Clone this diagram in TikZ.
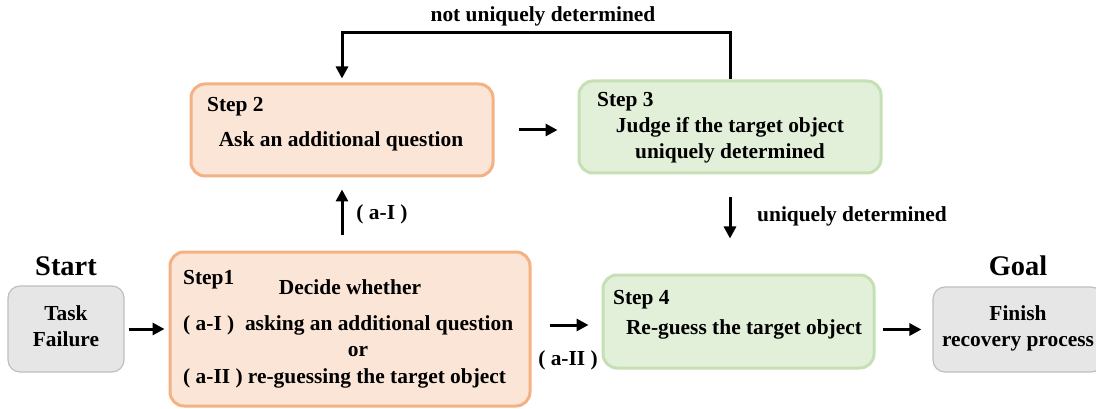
\documentclass[tikz,border=0pt]{standalone}
\usepackage{fontspec}
\setmainfont{Liberation Serif}
\usetikzlibrary{arrows.meta, positioning}
\definecolor{colorStepFill}{HTML}{FBE5D6}
\definecolor{colorStepLine}{HTML}{F4B183}
\definecolor{colorJudgeFill}{HTML}{E2F0D9}
\definecolor{colorJudgeLine}{HTML}{C5E0B4}
\definecolor{colorEndFill}{HTML}{E7E6E6}
\definecolor{colorEndLine}{HTML}{BFBFBF}
\tikzset{
  stepbox/.style={draw=colorStepLine, fill=colorStepFill, rounded corners=14pt, line width=3pt, inner sep=0pt},
  judgebox/.style={draw=colorJudgeLine, fill=colorJudgeFill, rounded corners=14pt, line width=3pt, inner sep=0pt},
  endbox/.style={draw=colorEndLine, fill=colorEndFill, rounded corners=12pt, line width=1.2pt, inner sep=0pt},
  txt/.style={font=\fontsize{21.4}{26}\selectfont\bfseries, inner sep=0pt, align=center},
  title/.style={font=\fontsize{28.4}{32}\selectfont\bfseries, inner sep=0pt},
  flow/.style={-{Triangle[length=12pt,width=12pt]}, line width=3pt},
}

\begin{document}
\begin{tikzpicture}[x=1pt, y=-1pt]
\useasboundingbox (0,0) rectangle (1096,409);
\node[endbox, minimum width=116pt, minimum height=86pt] (task) at (66,329) {};
\node[stepbox, minimum width=360pt, minimum height=154pt] (step1) at (350,329) {};
\node[stepbox, minimum width=302pt, minimum height=92pt] (step2) at (342,130) {};
\node[judgebox, minimum width=302pt, minimum height=92pt] (step3) at (730,127) {};
\node[judgebox, minimum width=271pt, minimum height=93pt] (step4) at (738.5,321.5) {};
\node[endbox, minimum width=170pt, minimum height=85pt] (goal) at (1018,329.5) {};

\node[title] (start) at (66,266) {Start};
\node[title] (goalTitle) at (1018,266) {Goal};
\node[txt] (taskText) at (66,326) {Task\\Failure};
\node[txt] (goalText) at (1018,328) {Finish\\recovery process};

\node[txt, anchor=west] (step1Title) at (183,280) {Step1};
\node[txt] (step1Head) at (350,287) {Decide whether};
\node[txt, anchor=west] (step1OptA) at (183,325) {( a-I )\ \ asking an additional question};
\node[txt] (step1Or) at (358,352) {or};
\node[txt, anchor=west] (step1OptB) at (183,378) {( a-II ) re-guessing the target object};

\node[txt, anchor=west] (step2Title) at (207,107) {Step 2};
\node[txt] (step2Text) at (341,141) {Ask an additional question};

\node[txt, anchor=west] (step3Title) at (597,102) {Step 3};
\node[txt] (step3Text) at (730,140) {Judge if the target object\\uniquely determined};

\node[txt, anchor=west] (step4Title) at (613,300) {Step 4};
\node[txt] (step4Text) at (744,329) {Re-guess the target object};

\node[txt] (labelAI) at (382,214) {( a-I )};
\node[txt] (labelAII) at (568,360) {( a-II )};
\node[txt] (labelNot) at (543,16) {not uniquely determined};
\node[txt, anchor=west] (labelUnique) at (757,216) {uniquely determined};

\coordinate (loopTop) at (0,33);
\draw[flow, shorten <=4pt, shorten >=4pt] (task) -- (step1);
\draw[flow, shorten <=16pt, shorten >=12pt] (step2.south |- step1.north) -- (step2.south);
\draw[flow, shorten <=24pt, shorten >=20pt] (step2.east) -- (step2.east -| step3.west);
\draw[flow, shorten >=4pt] (step3.north) -- (step3.north |- loopTop) -| (step2.north);
\draw[flow, shorten <=23pt, shorten >=35pt] (step3.south) -- (step3.south |- step4.north);
\draw[flow, shorten <=18pt, shorten >=13pt] ([yshift=-3.5pt]step4.west -| step1.east) -- ([yshift=-3.5pt]step4.west);
\draw[flow, shorten <=7pt, shorten >=11pt] (goal.west -| step4.east) -- (goal.west);
\end{tikzpicture}
\end{document}
